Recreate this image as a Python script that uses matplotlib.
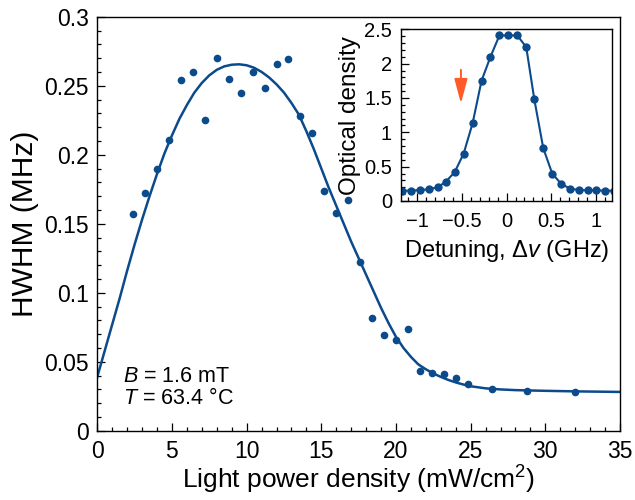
#! /usr/bin/env python3

import numpy as np
import matplotlib
matplotlib.use('Agg')
import matplotlib.pyplot as plt
from matplotlib.ticker import MultipleLocator, FuncFormatter

plt.rcParams['font.family'] = ['Liberation Sans', 'DejaVu Sans']
plt.rcParams['mathtext.fontset'] = 'custom'
plt.rcParams['mathtext.rm'] = 'Liberation Sans'
plt.rcParams['mathtext.it'] = 'Liberation Sans:italic'

# Measured HWHM vs light power density
power = [2.4, 3.2, 4.0, 4.8, 5.6, 6.4, 7.2, 8.0, 8.8, 9.6, 10.4, 11.2, 12.0, 12.8,
         13.6, 14.4, 15.2, 16.0, 16.8, 17.6, 18.4, 19.2, 20.0, 20.8, 21.6, 22.4,
         23.2, 24.0, 24.8, 26.4, 28.8, 32.0]
hwhm = [0.157, 0.172, 0.190, 0.211, 0.254, 0.260, 0.225, 0.270, 0.255, 0.245,
        0.260, 0.248, 0.266, 0.269, 0.228, 0.216, 0.174, 0.158, 0.167, 0.122,
        0.082, 0.069, 0.066, 0.074, 0.043, 0.042, 0.041, 0.038, 0.034, 0.030,
        0.029, 0.028]

# Fit curve
fit_x = [0, 0.5, 1, 1.5, 2, 2.5, 3, 3.5, 4, 4.5, 5, 5.5, 6, 6.5, 7, 7.5, 8, 8.5,
         9, 9.5, 10, 10.5, 11, 11.5, 12, 12.5, 13, 13.5, 14, 14.5, 15, 15.5, 16,
         16.5, 17, 17.5, 18, 18.5, 19, 19.5, 20, 20.5, 21, 21.5, 22, 22.5, 23,
         23.5, 24, 24.5, 25, 26, 27, 28, 30, 32, 35]
fit_y = [0.039, 0.058, 0.077, 0.096, 0.116, 0.135, 0.153, 0.170, 0.186, 0.201,
         0.214, 0.226, 0.236, 0.245, 0.252, 0.2575, 0.2615, 0.264, 0.2652, 0.2655,
         0.2648, 0.263, 0.260, 0.256, 0.251, 0.245, 0.2375, 0.229, 0.217, 0.204,
         0.190, 0.176, 0.163, 0.150, 0.137, 0.125, 0.113, 0.101, 0.089, 0.078,
         0.068, 0.060, 0.0535, 0.048, 0.0445, 0.0415, 0.039, 0.0368, 0.035,
         0.0335, 0.0322, 0.0307, 0.0299, 0.0294, 0.0289, 0.0285, 0.0281]

# Inset: optical density vs detuning
detuning = [-1.17, -1.07, -0.97, -0.87, -0.77, -0.68, -0.58, -0.48, -0.38, -0.28,
            -0.18, -0.08, 0.02, 0.12, 0.22, 0.31, 0.41, 0.51, 0.61, 0.71, 0.81,
            0.91, 1.0, 1.1, 1.2]
od = [0.15, 0.15, 0.16, 0.17, 0.20, 0.28, 0.42, 0.69, 1.13, 1.75, 2.10, 2.41,
      2.41, 2.41, 2.24, 1.48, 0.77, 0.40, 0.25, 0.18, 0.16, 0.155, 0.155, 0.15,
      0.15]

blue = '#0b4a8b'
red = '#ff5a28'


def fmt(v, pos):
    return ('%g' % v).replace('-', '\u2212')


fig = plt.figure(figsize=(6.35, 5.0), dpi=100)

# Main panel
ax = fig.add_axes([0.1532, 0.1386, 0.8232, 0.828])
ax.plot(fit_x, fit_y, '-', color=blue, lw=1.8)
ax.plot(power, hwhm, 'o', color=blue, ms=5.5, mec='none')
ax.set_xlim(0, 35)
ax.set_ylim(0, 0.3)
ax.xaxis.set_major_locator(MultipleLocator(5))
ax.xaxis.set_minor_locator(MultipleLocator(1))
ax.yaxis.set_major_locator(MultipleLocator(0.05))
ax.yaxis.set_minor_locator(MultipleLocator(0.01))
ax.xaxis.set_major_formatter(FuncFormatter(fmt))
ax.yaxis.set_major_formatter(FuncFormatter(fmt))
ax.tick_params(which='both', direction='in', top=False, right=False, width=0.9,
               labelsize=16.5)
ax.tick_params(which='major', length=6)
ax.tick_params(which='minor', length=3)
ax.tick_params(axis='x', pad=7)
ax.tick_params(axis='y', pad=6)
for s in ax.spines.values():
    s.set_linewidth(1.0)
ax.set_xlabel('Light power density (mW/cm$^2$)', fontsize=19, labelpad=0.5)
ax.set_ylabel('HWHM (MHz)', fontsize=21.5, labelpad=4)
ax.text(1.74, 0.0355, '$B$ = 1.6 mT', fontsize=15.5, va='baseline')
ax.text(1.74, 0.0193, '$T$ = 63.4 °C', fontsize=15.5, va='baseline')

# Inset
ins = fig.add_axes([0.6315, 0.598, 0.3318, 0.3434])
ins.plot(detuning, od, 'o-', color=blue, lw=1.5, ms=6, mec='none')
ins.set_xlim(-1.18, 1.175)
ins.set_ylim(0, 2.5)
ins.xaxis.set_major_locator(MultipleLocator(0.5))
ins.xaxis.set_minor_locator(MultipleLocator(0.1))
ins.yaxis.set_major_locator(MultipleLocator(0.5))
ins.yaxis.set_minor_locator(MultipleLocator(0.1))
ins.xaxis.set_major_formatter(FuncFormatter(fmt))
ins.yaxis.set_major_formatter(FuncFormatter(fmt))
ins.tick_params(which='both', direction='in', top=False, right=False, width=0.9,
                labelsize=14.5)
ins.tick_params(which='major', length=6)
ins.tick_params(which='minor', length=3)
ins.tick_params(axis='x', pad=8)
ins.tick_params(axis='y', pad=6.5)
for s in ins.spines.values():
    s.set_linewidth(1.0)
ins.set_xlabel('Detuning, Δ$v$ (GHz)', fontsize=17, labelpad=5)
ins.set_ylabel('Optical density', fontsize=17.5, labelpad=2)
ins.annotate('', xy=(-0.51, 1.42), xytext=(-0.51, 1.91),
             arrowprops=dict(arrowstyle='-|>,head_length=0.75,head_width=0.2',
                             color=red, lw=1.4, mutation_scale=20,
                             shrinkA=0, shrinkB=0))

fig.savefig('out.png', dpi=100)
